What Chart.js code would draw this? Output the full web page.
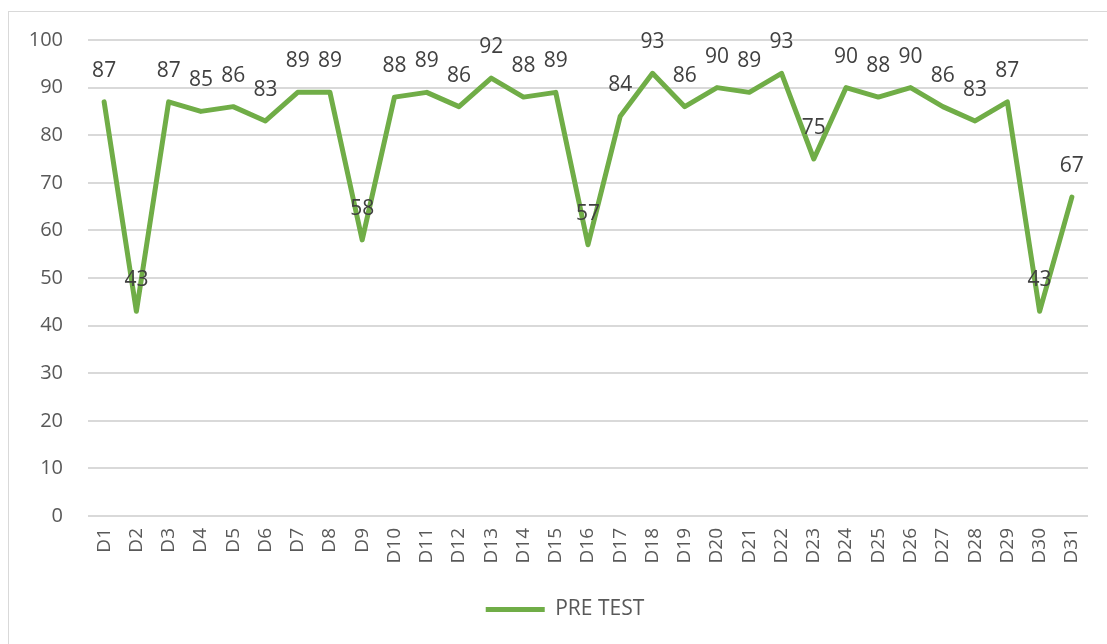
<!DOCTYPE html>
<html>
<head>
<meta charset="utf-8">
<title>PRE TEST</title>
<script src="https://cdn.jsdelivr.net/npm/chart.js@4/dist/chart.umd.min.js"></script>
<style>
  html, body { margin: 0; padding: 0; background: #fff; overflow: hidden; }
  #frame {
    position: absolute; left: 8px; top: 11px; width: 1120px; height: 660px;
    border: 1px solid #d9d9d9; box-sizing: border-box;
  }
  #wrap { position: absolute; left: 0; top: 0; width: 1107px; height: 644px; }
</style>
</head>
<body>
<div id="frame"></div>
<div id="wrap"><canvas id="scoreChart" width="1107" height="644"></canvas></div>
<script>
// Daily pre-test scores
const days = ['D1', 'D2', 'D3', 'D4', 'D5', 'D6', 'D7', 'D8', 'D9', 'D10',
              'D11', 'D12', 'D13', 'D14', 'D15', 'D16', 'D17', 'D18', 'D19', 'D20',
              'D21', 'D22', 'D23', 'D24', 'D25', 'D26', 'D27', 'D28', 'D29', 'D30', 'D31'];
const preTest = [87, 43, 87, 85, 86, 83, 89, 89, 58, 88,
                 89, 86, 92, 88, 89, 57, 84, 93, 86, 90,
                 89, 93, 75, 90, 88, 90, 86, 83, 87, 43, 67];
const yTicks = { min: 0, max: 100, step: 10 };

const FONT = "'Open Sans', 'Liberation Sans', sans-serif";
const GREEN = '#70ad47';

// Value labels above each point
const valueLabels = {
    id: 'valueLabels',
    afterDatasetsDraw(chart) {
        const ctx = chart.ctx;
        const meta = chart.getDatasetMeta(0);
        ctx.save();
        ctx.font = `21px ${FONT}`;
        ctx.fillStyle = '#404040';
        ctx.textAlign = 'center';
        ctx.textBaseline = 'middle';
        meta.data.forEach((pt, i) => {
            ctx.fillText(String(preTest[i]), pt.x, pt.y - 31);
        });
        ctx.restore();
    }
};

// Nudge the legend a little to the right of the canvas centre
const legendShift = {
    id: 'legendShift',
    afterLayout(chart) {
        if (chart.legend) {
            chart.legend.left += 21;
            chart.legend.right += 21;
        }
    }
};

new Chart(document.getElementById('scoreChart'), {
    type: 'line',
    data: {
        labels: days,
        datasets: [{
            label: 'PRE TEST',
            data: preTest,
            borderColor: GREEN,
            backgroundColor: GREEN,
            borderWidth: 5,
            borderCapStyle: 'round',
            borderJoinStyle: 'round',
            pointRadius: 0,
            tension: 0
        }]
    },
    options: {
        responsive: false,
        animation: false,
        layout: { padding: { top: 40, left: 0, right: 19, bottom: 14 } },
        plugins: {
            tooltip: { enabled: false },
            legend: {
                position: 'bottom',
                labels: {
                    usePointStyle: true,
                    pointStyle: 'line',
                    pointStyleWidth: 59,
                    color: '#595959',
                    font: { family: FONT, size: 21 },
                    padding: 10
                }
            }
        },
        scales: {
            x: {
                offset: true,
                grid: { display: false, drawTicks: false },
                border: { display: false },
                ticks: {
                    color: '#595959',
                    font: { family: FONT, size: 19 },
                    minRotation: 90,
                    maxRotation: 90,
                    autoSkip: false,
                    padding: 12
                },
                afterFit: scale => { scale.height = 73; }
            },
            y: {
                min: yTicks.min,
                max: yTicks.max,
                grid: { color: '#d9d9d9', lineWidth: 2, drawTicks: false },
                border: { display: false },
                ticks: {
                    stepSize: yTicks.step,
                    color: '#595959',
                    font: { family: FONT, size: 20 },
                    padding: 25
                },
                afterFit: scale => { scale.width = 88; }
            }
        }
    },
    plugins: [valueLabels, legendShift]
});
</script>
</body>
</html>
